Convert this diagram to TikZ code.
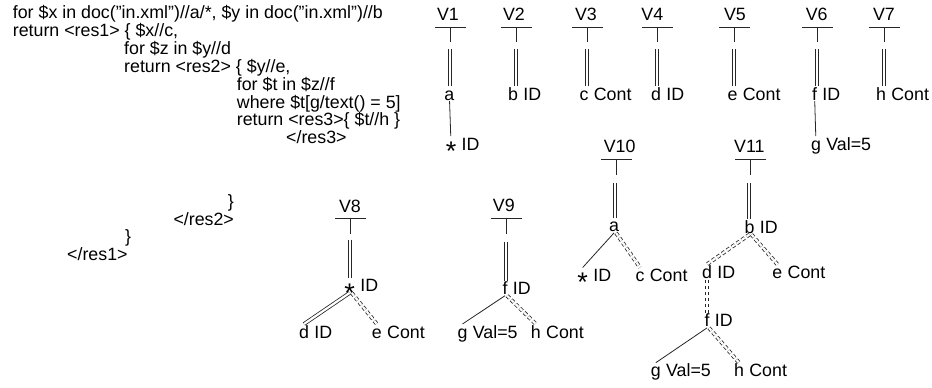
\documentclass[tikz,border=0pt]{standalone}
\usepackage{fontspec}
\setmainfont{Liberation Sans}
\newcommand\lblfont{\fontsize{17.8}{17.8}\selectfont}
\newcommand\anystar{\raisebox{-10.4pt}{\fontsize{27}{27}\selectfont *}}

\tikzset{
	vw/.style={font=\lblfont, inner sep=0pt},
	el/.style={font=\lblfont, inner sep=1pt, text height=12.8pt, text depth=0pt, anchor=base},
	lbl/.style={font=\lblfont, inner sep=0pt, text height=12.8pt, text depth=0pt},
	ann/.style={label={[lbl, xshift=4pt]right:#1}},
	code/.style={font=\lblfont, inner sep=0pt, anchor=base west},
	pc/.style={line width=0.8pt, black!85},
	ad/.style={pc, double, double distance=2.2pt},
	opt/.style={ad, dash pattern=on 3.5pt off 2.5pt},
	vroot/.pic={\draw[pc] (-15.5,0) -- (15.5,0) (0,0) -- (0,15);}
}

\begin{document}
\begin{tikzpicture}[x=1pt, y=-1pt]
		\useasboundingbox (0,0) rectangle (932,388);
		
		% the query
		\node[code] (c1) at (12.7,18.5) {for \$x in doc("in.xml")//a/*, \$y in doc("in.xml")//b};
		\node[code] (c2) at (12.7,36.4) {return <res1> \{ \$x//c,};
		\node[code] (c3) at (124,54.3) {for \$z in \$y//d};
		\node[code] (c4) at (124,72.2) {return <res2> \{ \$y//e,};
		\node[code] (c5) at (236.7,90.1) {for \$t in \$z//f};
		\node[code] (c6) at (236.7,108) {where \$t[g/text() = 5]};
		\node[code] (c7) at (236.7,125.9) {return <res3>\{ \$t//h \}};
		\node[code] (c8) at (286,143.8) {</res3>};
		\node[code] (c9) at (227.7,207.5) {\}};
		\node[code] (c10) at (173.3,225) {</res2>};
		\node[code] (c11) at (125,242.5) {\}};
		\node[code] (c12) at (67,260) {</res1>};
		
		% V1 .. V7
		\node[vw] (V1) at (448,14) {V1};
		\pic at (450.5,27) {vroot};
		\coordinate (r1) at (450,49);
		\node[el] (a1) at (449.3,100) {a};
		\node[el, ann=ID] (s1) at (451,150) {\anystar};
		\draw[ad] (r1) -- (r1 |- a1.north);
		\draw[pc] (a1) -- (s1);
		
		\node[vw] (V2) at (514,14) {V2};
		\pic at (516.5,27) {vroot};
		\coordinate (r2) at (516,49);
		\node[el, ann=ID] (b2) at (513,100) {b};
		\draw[ad] (r2) -- (r2 |- b2.north);
		
		\node[vw] (V3) at (586,14) {V3};
		\pic at (587.5,27) {vroot};
		\coordinate (r3) at (587,49);
		\node[el, ann=Cont] (c3t) at (584,100) {c};
		\draw[ad] (r3) -- (r3 |- c3t.north);
		
		\node[vw] (V4) at (652.3,14) {V4};
		\pic at (657.5,27) {vroot};
		\coordinate (r4) at (657,49);
		\node[el, ann=ID] (d4) at (656,100) {d};
		\draw[ad] (r4) -- (r4 |- d4.north);
		
		\node[vw] (V5) at (735,14) {V5};
		\pic at (734.5,27) {vroot};
		\coordinate (r5) at (734,49);
		\node[el, ann=Cont] (e5) at (732.5,100) {e};
		\draw[ad] (r5) -- (r5 |- e5.north);
		
		\node[vw] (V6) at (816.7,14) {V6};
		\pic at (817.5,27) {vroot};
		\coordinate (r6) at (817,49);
		\node[el, ann=ID] (f6) at (814.5,100) {f};
		\node[el, ann={Val=5}] (g6) at (816,150) {g};
		\draw[ad] (r6) -- (r6 |- f6.north);
		\draw[pc] (f6) -- (g6);
		
		\node[vw] (V7) at (884,14) {V7};
		\pic at (884.5,27) {vroot};
		\coordinate (r7) at (884,49);
		\node[el, ann=Cont] (h7) at (881,100) {h};
		\draw[ad] (r7) -- (r7 |- h7.north);
		
		% V8
		\node[vw] (V8) at (350,206.5) {V8};
		\pic at (350.5,218.5) {vroot};
		\coordinate (r8) at (350,239.5);
		\node[el, ann=ID] (s8) at (349.7,291.7) {\anystar};
		\node[el, ann=ID] (d8) at (304,338) {d};
		\node[el, ann=Cont] (e8) at (376.8,338) {e};
		\draw[ad] (r8) -- (r8 |- s8.north);
		\draw[ad] (s8.south) -- (d8.north);
		\draw[opt] ([xshift=2pt]s8.south) -- (e8.north);
		
		% V9
		\node[vw] (V9) at (503.8,205.5) {V9};
		\pic at (506.5,218.5) {vroot};
		\coordinate (r9) at (506,242);
		\node[el, ann=ID] (f9) at (505,294.5) {f};
		\node[el, ann={Val=5}] (g9) at (462.5,338) {g};
		\node[el, ann=Cont] (h9) at (535.8,338) {h};
		\draw[ad] (r9) -- (r9 |- f9.north);
		\draw[pc] (f9.south) -- (g9.north);
		\draw[opt] ([xshift=2pt]f9.south) -- (h9.north);
		
		% V10
		\node[vw] (V10) at (619.7,146) {V10};
		\pic at (616.5,159.5) {vroot};
		\coordinate (r10) at (615,183);
		\node[el] (a10) at (614,231.7) {a};
		\node[el, ann=ID] (s10) at (582.7,281.5) {\anystar};
		\node[el, ann=Cont] (c10t) at (640,281.5) {c};
		\draw[ad] (r10) -- (r10 |- a10.north);
		\draw[pc] (a10.south) -- (s10.north);
		\draw[opt] ([xshift=2pt]a10.south) -- (c10t.north);
		
		% V11
		\node[vw] (V11) at (749.3,146) {V11};
		\pic at (750.5,159.5) {vroot};
		\coordinate (r11) at (749,183);
		\node[el, ann=ID] (b11) at (749.5,233.3) {b};
		\node[el, ann=ID] (d11) at (707,278.3) {d};
		\node[el, ann=Cont] (e11) at (777.3,278.3) {e};
		\node[el, ann=ID] (f11) at (707,326.7) {f};
		\node[el, ann={Val=5}] (g11) at (655.8,376.7) {g};
		\node[el, ann=Cont] (h11) at (739,376.7) {h};
		\draw[ad] (r11) -- (r11 |- b11.north);
		\draw[opt] (b11.south) -- (d11.north);
		\draw[opt] ([xshift=2pt]b11.south) -- (e11.north);
		\draw[opt] (d11.south) -- (f11.north);
		\draw[pc] (f11.south) -- (g11.north);
		\draw[opt] ([xshift=2pt]f11.south) -- (h11.north);
		
\end{tikzpicture}
\end{document}
